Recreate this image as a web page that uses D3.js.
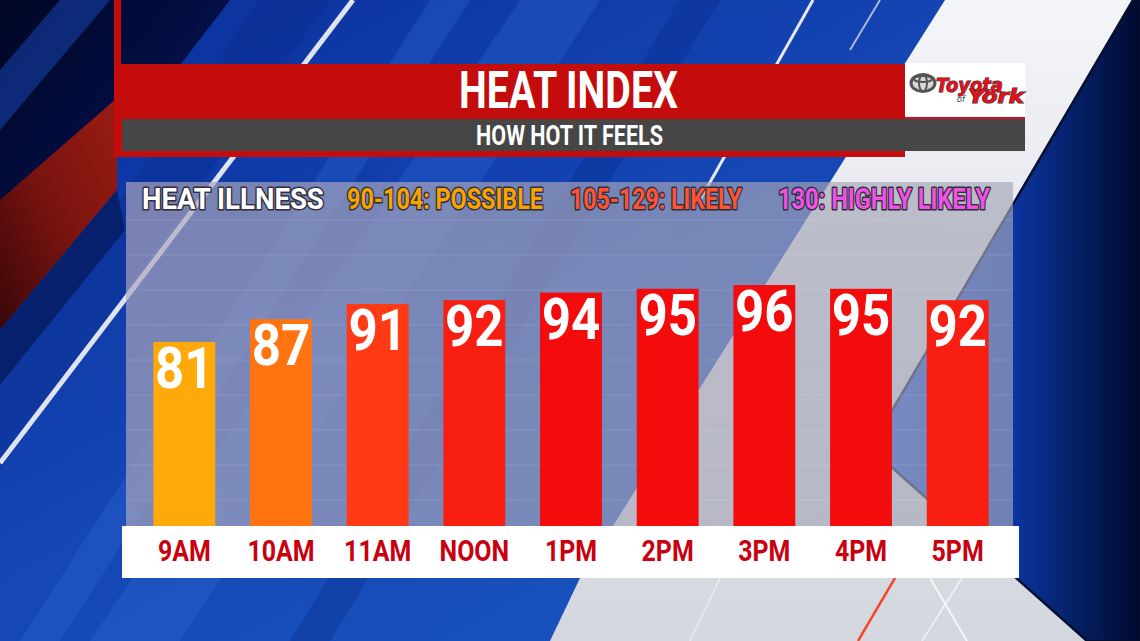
<!DOCTYPE html>
<html>
<head>
<meta charset="utf-8">
<script src="https://cdn.jsdelivr.net/npm/d3@7"></script>
<style>
  html, body { margin: 0; padding: 0; background: #0c2f8f; }
  svg { display: block; }
</style>
</head>
<body>
<svg id="chart" width="1140" height="641"></svg>
<script>
// ---------------- DATA ----------------
const categories = ["9AM", "10AM", "11AM", "NOON", "1PM", "2PM", "3PM", "4PM", "5PM"];
const heatIndex = [81, 87, 91, 92, 94, 95, 96, 95, 92];
const titleText = "HEAT INDEX";
const subtitleText = "HOW HOT IT FEELS";
const legendLabels = ["HEAT ILLNESS", "90-104: POSSIBLE", "105-129: LIKELY", "130: HIGHLY LIKELY"];
const legendColors = ["#ffffff", "#f7a300", "#ff5433", "#f152e4"];
const barColorStops = [81, 87, 91, 92, 94];
const barColorRange = ["#ffa90b", "#ff7410", "#ff3a14", "#f81e12", "#f40c0c"];

// ---------------- SETUP ----------------
const W = 1140, H = 641;
const svg = d3.select("#chart");
const defs = svg.append("defs");

function linGrad(id, x1, y1, x2, y2, stops) {
  const g = defs.append("linearGradient").attr("id", id)
    .attr("x1", x1).attr("y1", y1).attr("x2", x2).attr("y2", y2);
  stops.forEach(s => g.append("stop").attr("offset", s[0]).attr("stop-color", s[1]).attr("stop-opacity", s[2] == null ? 1 : s[2]));
  return g;
}
linGrad("bgBlue", "0", "0", "1", "1", [[0, "#0a2e9a"], [0.45, "#1446b4"], [1, "#1d5cc4"]]);
linGrad("topLeftDark", "0", "0", "1", "1", [[0, "#000622"], [1, "#05186a"]]);
linGrad("redBand", "0", "1", "1", "0", [[0, "#3a0608"], [0.5, "#7a1410"], [1, "#9a1c12"]]);
linGrad("lightArea", "0", "0", "0", "1", [[0, "#f4f5f8"], [0.5, "#e2e4ea"], [1, "#d4d7dd"]]);
linGrad("darkChevron", "0", "0", "1", "0", [[0, "#1a55d8"], [0.45, "#0d3cb4"], [1, "#000a2c"]]);
linGrad("panelFill", "0", "0", "1", "0", [[0, "#aca6bc", 0.68], [1, "#a4a6b8", 0.66]]);

const line = d3.line();
const FONT = "Roboto, 'DejaVu Sans', sans-serif";

// ---------------- BACKGROUND ----------------
const bg = svg.append("g");
bg.append("rect").attr("width", W).attr("height", H).attr("fill", "url(#bgBlue)");

const streaks = [
  [[260, 0], [330, 0], [0, 470], [0, 370]],
  [[520, 0], [600, 0], [180, 641], [90, 641]],
  [[680, 0], [720, 0], [330, 641], [290, 641]],
  [[430, 0], [470, 0], [60, 641], [20, 641]]
];
streaks.forEach((p, i) => bg.append("path").attr("d", line(p) + "Z")
  .attr("fill", i % 2 ? "#2a66d0" : "#0a2a8a").attr("opacity", 0.35));

// top-left dark corner
bg.append("path").attr("d", line([[0, 0], [230, 0], [0, 300]]) + "Z").attr("fill", "url(#topLeftDark)");
bg.append("path").attr("d", line([[60, 0], [110, 0], [0, 130], [0, 70]]) + "Z").attr("fill", "#1540a8").attr("opacity", 0.6);
// red-brown diagonal band
bg.append("path").attr("d", line([[0, 200], [117, 98], [117, 190], [0, 330]]) + "Z").attr("fill", "url(#redBand)");
bg.append("path").attr("d", line([[0, 330], [117, 190], [125, 230], [0, 385]]) + "Z").attr("fill", "#06206e");

// white diagonal lines
bg.append("path").attr("d", line([[353, 0], [0, 463]])).attr("stroke", "#dfe3ee").attr("stroke-width", 5);
bg.append("path").attr("d", line([[813, 0], [700, 200]])).attr("stroke", "#e6e9f2").attr("stroke-width", 3);
bg.append("path").attr("d", line([[880, 0], [850, 50]])).attr("stroke", "#e6e9f2").attr("stroke-width", 2).attr("opacity", 0.7);

// light area on the right
bg.append("path").attr("d", line([[945, 0], [1133, 0], [870, 448], [1087, 641], [550, 641], [580, 578]]) + "Z")
  .attr("fill", "url(#lightArea)");
bg.append("path").attr("d", line([[895, 578], [858, 641]])).attr("stroke", "#f04a2a").attr("stroke-width", 2.5);
bg.append("path").attr("d", line([[930, 578], [967, 641]])).attr("stroke", "#ffffff").attr("stroke-width", 2).attr("opacity", 0.8);
bg.append("path").attr("d", line([[962, 578], [922, 641]])).attr("stroke", "#ffffff").attr("stroke-width", 1.5).attr("opacity", 0.7);
bg.append("path").attr("d", line([[720, 578], [690, 641]])).attr("stroke", "#ffffff").attr("stroke-width", 1.5).attr("opacity", 0.5);

// dark blue chevron on the right
bg.append("path").attr("d", line([[1133, 0], [1140, 0], [1140, 641], [1087, 641], [870, 448]]) + "Z")
  .attr("fill", "url(#darkChevron)").attr("stroke", "#05102e").attr("stroke-width", 2.5);

// ---------------- TITLE BLOCK ----------------
const title = svg.append("g");
title.append("rect").attr("x", 114).attr("y", 0).attr("width", 7).attr("height", 64).attr("fill", "#c40c0c");
title.append("rect").attr("x", 114).attr("y", 64).attr("width", 791).attr("height", 93).attr("fill", "#c40c0c");
title.append("rect").attr("x", 905).attr("y", 63).attr("width", 120).attr("height", 55).attr("fill", "#ffffff");
title.append("rect").attr("x", 905).attr("y", 117).attr("width", 120).attr("height", 2).attr("fill", "#d01020");
title.append("rect").attr("x", 122).attr("y", 119).attr("width", 903).attr("height", 32).attr("fill", "#464646");

// text condensed to a target width with a horizontal scale
function fitText(sel, cx, baseline, width, anchor) {
  sel.each(function () {
    const t = d3.select(this);
    const w = this.getComputedTextLength();
    const s = width / w;
    t.attr("x", 0).attr("y", 0).attr("text-anchor", anchor)
      .attr("transform", `translate(${cx},${baseline}) scale(${s},1)`);
  });
}

fitText(title.append("text").attr("font-family", FONT).attr("font-weight", 700)
  .attr("font-size", 51).attr("fill", "#ffffff").text(titleText), 568.5, 108, 219, "middle");
fitText(title.append("text").attr("font-family", FONT).attr("font-weight", 700)
  .attr("font-size", 27).attr("fill", "#ffffff").text(subtitleText), 569.5, 144.5, 187, "middle");

// logo
const logo = title.append("g");
logo.append("ellipse").attr("cx", 923).attr("cy", 83).attr("rx", 12).attr("ry", 8.5)
  .attr("fill", "#d8d8d8").attr("stroke", "#555").attr("stroke-width", 3);
logo.append("ellipse").attr("cx", 923).attr("cy", 83).attr("rx", 4).attr("ry", 8.5)
  .attr("fill", "none").attr("stroke", "#555").attr("stroke-width", 2);
logo.append("ellipse").attr("cx", 923).attr("cy", 79).attr("rx", 9).attr("ry", 3)
  .attr("fill", "none").attr("stroke", "#555").attr("stroke-width", 2);
const logoText = logo.append("text")
  .attr("font-family", "'DejaVu Sans', sans-serif").attr("font-weight", 700).attr("font-style", "italic")
  .attr("fill", "#e0121e").attr("stroke", "#2a2a2a").attr("stroke-width", 1).attr("paint-order", "stroke");
logoText.append("tspan").attr("x", 936).attr("y", 92).attr("font-size", 19)
  .attr("textLength", 67).attr("lengthAdjust", "spacingAndGlyphs").text("Toyota");
logoText.append("tspan").attr("x", 957).attr("y", 102).attr("font-size", 8).attr("font-weight", 400)
  .attr("fill", "#333").attr("stroke", "none").text("of");
logoText.append("tspan").attr("x", 968).attr("y", 103).attr("font-size", 19)
  .attr("textLength", 56).attr("lengthAdjust", "spacingAndGlyphs").text("York");

// ---------------- PANEL ----------------
const panel = { x0: 126, x1: 1013, y0: 182, y1: 526 };
svg.append("rect").attr("x", panel.x0).attr("y", panel.y0)
  .attr("width", panel.x1 - panel.x0).attr("height", panel.y1 - panel.y0)
  .attr("fill", "url(#panelFill)");
const bandYs = d3.range(panel.y0 + 38, panel.y1, 35);
svg.append("g").selectAll("line").data(bandYs).join("line")
  .attr("x1", panel.x0).attr("x2", panel.x1).attr("y1", d => d).attr("y2", d => d)
  .attr("stroke", "#ffffff").attr("stroke-opacity", 0.06).attr("stroke-width", 2);

// legend row
const legendX = [142, 347, 570, 778];
const legendW = [182, 196, 172, 212];
svg.append("g").selectAll("text").data(legendLabels).join("text")
  .attr("font-family", FONT).attr("font-weight", 700)
  .attr("font-size", 30).attr("fill", (d, i) => legendColors[i])
  .attr("stroke", "#2e2e3c").attr("stroke-width", 3).attr("stroke-linejoin", "round")
  .attr("paint-order", "stroke")
  .text(d => d)
  .each(function (d, i) { fitText(d3.select(this), legendX[i], 209, legendW[i], "start"); });

// ---------------- SCALES ----------------
const x = d3.scaleBand().domain(categories).range([136, 1006]).paddingInner(0.36).paddingOuter(0.18);
const y = d3.scaleLinear().domain([32.5, 96]).range([panel.y1, 285]);
const color = d3.scaleLinear().domain(barColorStops).range(barColorRange).clamp(true);

const data = categories.map((c, i) => ({ cat: c, val: heatIndex[i] }));

// bars
svg.append("g").selectAll("rect").data(data).join("rect")
  .attr("x", d => x(d.cat)).attr("width", x.bandwidth())
  .attr("y", d => y(d.val)).attr("height", d => panel.y1 - y(d.val))
  .attr("fill", d => color(d.val));

// value labels
svg.append("g").selectAll("text").data(data).join("text")
  .attr("transform", d => `translate(${x(d.cat) + x.bandwidth() / 2},${y(d.val) + 46}) scale(0.88,1)`)
  .attr("text-anchor", "middle")
  .attr("font-family", FONT).attr("font-weight", 700)
  .attr("font-size", 58).attr("fill", "#ffffff")
  .text(d => d.val);

// category label strip
svg.append("rect").attr("x", 122).attr("y", panel.y1).attr("width", 897).attr("height", 52).attr("fill", "#ffffff");
const xAxis = d3.axisBottom(x).tickSize(0).tickPadding(0);
const axisG = svg.append("g").attr("transform", `translate(0,${panel.y1})`).call(xAxis);
axisG.select(".domain").remove();
axisG.selectAll(".tick text")
  .attr("y", 0).attr("dy", 0)
  .attr("transform", "translate(0,35) scale(0.86,1)")
  .attr("font-family", FONT).attr("font-weight", 700)
  .attr("font-size", 29).attr("fill", "#c8000f");
</script>
</body>
</html>
